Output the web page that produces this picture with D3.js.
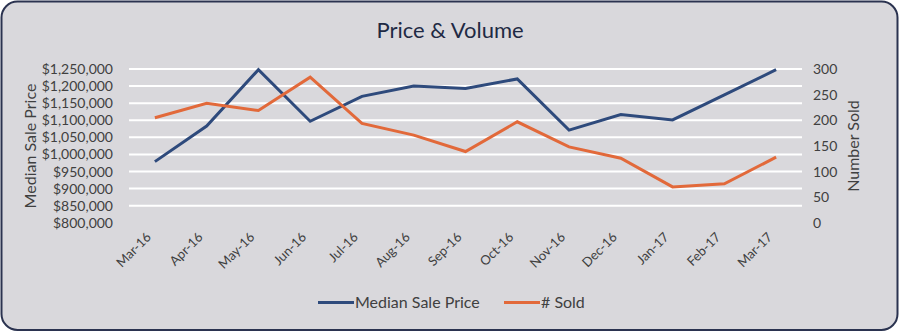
<!DOCTYPE html>
<html><head><meta charset="utf-8">
<script src="https://cdn.jsdelivr.net/npm/d3@7"></script>
<style>
html,body{margin:0;padding:0;background:#ffffff;}
svg{display:block;}
text{font-family:Lato, "Open Sans", sans-serif;}
</style></head>
<body>
<svg id="chart" width="900" height="332"></svg>
<script>
const months = ["Mar-16","Apr-16","May-16","Jun-16","Jul-16","Aug-16","Sep-16","Oct-16","Nov-16","Dec-16","Jan-17","Feb-17","Mar-17"];
const medianPrice = [979000,1083000,1248000,1097000,1170000,1200000,1193000,1221000,1071000,1117000,1101000,1174000,1248000];
const numSold = [205,233,219,284,194,171,139,197,148,126,70,76,128];
const priceTicks = [800000,850000,900000,950000,1000000,1050000,1100000,1150000,1200000,1250000];
const soldTicks = [0,50,100,150,200,250,300];
const seriesNames = ["Median Sale Price","# Sold"];

(function(){
const svg = d3.select("#chart");
const W = 900, H = 332;
const blue = "#2e4a7c", orange = "#e2693a";
const txt = "#404040";

svg.append("rect").attr("x",1.5).attr("y",1.5).attr("width",W-4).attr("height",H-3.5)
  .attr("rx",16).attr("ry",16).attr("fill","#d9d8dc").attr("stroke","#2b3350").attr("stroke-width",2);

svg.append("text").attr("x",450).attr("y",38).attr("text-anchor","middle")
  .attr("font-size",22).attr("fill","#1f2a44").text("Price & Volume");

const pL = 129, pR = 802, pT = 69, pB = 222.8;
const x = d3.scaleBand().domain(months).range([pL,pR]);
const yL = d3.scaleLinear().domain([800000,1250000]).range([pB,pT]);
const yR = d3.scaleLinear().domain([0,300]).range([pB,pT]);

svg.append("g").selectAll("line").data(priceTicks.filter(d=>d>800000)).join("line")
  .attr("x1",pL).attr("x2",pR)
  .attr("y1",d=>yL(d)).attr("y2",d=>yL(d))
  .attr("stroke","#ffffff").attr("stroke-width",2);

const fmt = d3.format("$,");
const gL = svg.append("g").attr("transform",`translate(${pL},0)`)
  .call(d3.axisLeft(yL).tickValues(priceTicks).tickFormat(fmt).tickSize(0).tickPadding(16));
gL.select(".domain").remove();
gL.selectAll("text").attr("font-size",14).attr("fill",txt).attr("font-family","Lato, sans-serif");

const gR = svg.append("g").attr("transform",`translate(${pR},0)`)
  .call(d3.axisRight(yR).tickValues(soldTicks).tickSize(0).tickPadding(11));
gR.select(".domain").remove();
gR.selectAll("text").attr("font-size",14).attr("fill",txt).attr("font-family","Lato, sans-serif");

const gX = svg.append("g").attr("transform",`translate(0,${pB})`)
  .call(d3.axisBottom(x).tickSize(0).tickPadding(0));
gX.select(".domain").remove();
gX.selectAll("text").attr("font-size",13).attr("fill",txt).attr("font-family","Lato, sans-serif")
  .attr("text-anchor","end").attr("dy",0)
  .attr("transform","translate(-3,15) rotate(-45)");

svg.append("text").attr("transform","translate(36,146) rotate(-90)").attr("text-anchor","middle")
  .attr("font-size",16).attr("fill",txt).text("Median Sale Price");
svg.append("text").attr("transform","translate(859,146) rotate(-90)").attr("text-anchor","middle")
  .attr("font-size",16).attr("fill",txt).text("Number Sold");

const cx = d => x(d) + x.bandwidth()/2;
svg.append("path").datum(months.map((m,i)=>[cx(m),yL(medianPrice[i])]))
  .attr("d",d3.line()).attr("fill","none").attr("stroke",blue).attr("stroke-width",3).attr("stroke-linejoin","miter");
svg.append("path").datum(months.map((m,i)=>[cx(m),yR(numSold[i])]))
  .attr("d",d3.line()).attr("fill","none").attr("stroke",orange).attr("stroke-width",3).attr("stroke-linejoin","miter");

const lg = svg.append("g");
const legendItems = [{name:seriesNames[0],color:blue,x:318,w:36},{name:seriesNames[1],color:orange,x:504,w:36}];
legendItems.forEach(it=>{
  lg.append("line").attr("x1",it.x).attr("x2",it.x+it.w).attr("y1",302.5).attr("y2",302.5)
    .attr("stroke",it.color).attr("stroke-width",3);
  lg.append("text").attr("x",it.x+it.w+1).attr("y",308).attr("font-size",16).attr("fill",txt).text(it.name);
});
})();
</script>
</body></html>
